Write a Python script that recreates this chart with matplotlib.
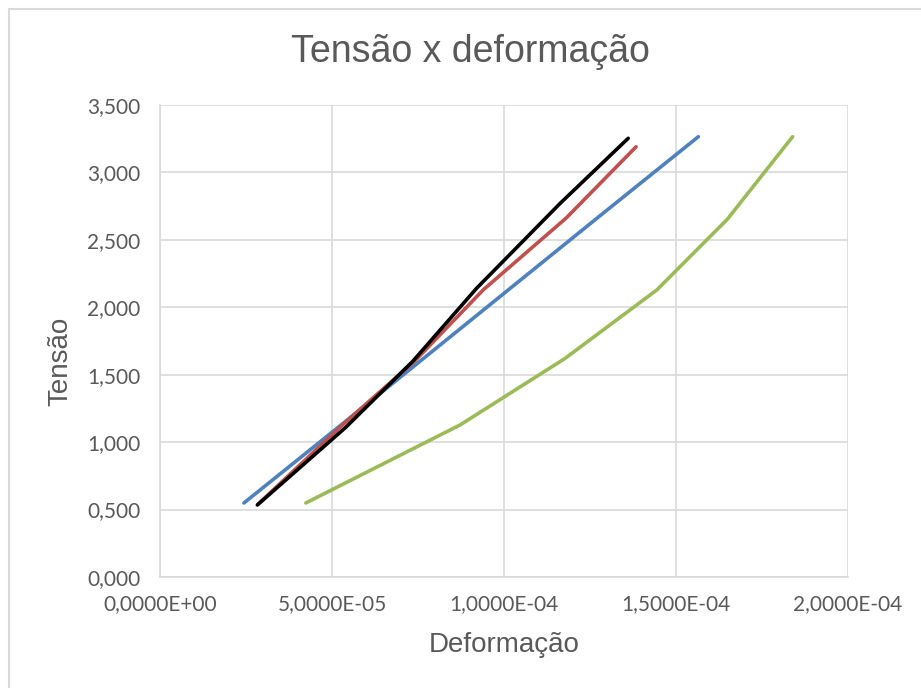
import matplotlib
matplotlib.use("Agg")
import matplotlib.pyplot as plt
from matplotlib.patches import Rectangle
from matplotlib.ticker import FuncFormatter, MultipleLocator

# deformação (x) e tensão (y) de cada corpo de prova
def_azul = [2.44e-5, 5.13e-5, 7.56e-5, 1.013e-4, 1.27e-4, 1.565e-4]
ten_azul = [0.549, 1.100, 1.600, 2.130, 2.660, 3.265]

def_verm = [2.85e-5, 5.40e-5, 7.40e-5, 9.40e-5, 1.18e-4, 1.384e-4]
ten_verm = [0.540, 1.150, 1.600, 2.130, 2.660, 3.190]

def_verde = [4.24e-5, 8.72e-5, 1.177e-4, 1.444e-4, 1.649e-4, 1.839e-4]
ten_verde = [0.549, 1.127, 1.620, 2.128, 2.652, 3.265]

def_preto = [2.83e-5, 5.38e-5, 7.35e-5, 9.20e-5, 1.163e-4, 1.361e-4]
ten_preto = [0.534, 1.105, 1.600, 2.140, 2.770, 3.253]

cinza_txt = "#595959"
cinza_grade = "#D9D9D9"

fig = plt.figure(figsize=(9.21, 6.88), dpi=100)
fig.patches.append(Rectangle((9 / 921, -0.1), 1.2, 1.1 - 9 / 688,
                             transform=fig.transFigure, fill=False,
                             edgecolor=cinza_grade, linewidth=1.5))

ax = fig.add_axes([160 / 921, 111 / 688, 688 / 921, 472 / 688])

ax.plot(def_azul, ten_azul, color="#4F81BD", lw=2.6, solid_capstyle="round")
ax.plot(def_verm, ten_verm, color="#C0504D", lw=2.6, solid_capstyle="round")
ax.plot(def_verde, ten_verde, color="#9BBB59", lw=2.6, solid_capstyle="round")
ax.plot(def_preto, ten_preto, color="#000000", lw=2.6, solid_capstyle="round")

ax.set_xlim(0, 2e-4)
ax.set_ylim(0, 3.5)
ax.xaxis.set_major_locator(MultipleLocator(5e-5))
ax.yaxis.set_major_locator(MultipleLocator(0.5))


def fmt_x(v, pos):
    return f"{v:.4E}".replace(".", ",")


def fmt_y(v, pos):
    return f"{v:.3f}".replace(".", ",")


ax.xaxis.set_major_formatter(FuncFormatter(fmt_x))
ax.yaxis.set_major_formatter(FuncFormatter(fmt_y))

ax.grid(True, color=cinza_grade, linewidth=1.2)
ax.set_axisbelow(True)
for lado in ["top", "right"]:
    ax.spines[lado].set_visible(False)
for lado in ["left", "bottom"]:
    ax.spines[lado].set_color(cinza_grade)
    ax.spines[lado].set_linewidth(1.2)
ax.tick_params(length=0, colors=cinza_txt, labelsize=15)
ax.tick_params(axis="y", pad=14)
ax.tick_params(axis="x", pad=12)
for lbl in ax.get_xticklabels() + ax.get_yticklabels():
    lbl.set_family("Lato")

fig.text(470 / 921, 1 - 52 / 688, "Tensão x deformação", ha="center", va="center",
         fontsize=27, color=cinza_txt, family="Liberation Sans")
fig.text(504 / 921, 1 - 645 / 688, "Deformação", ha="center", va="center",
         fontsize=20, color=cinza_txt, family="Liberation Sans")
fig.text(60 / 921, 1 - 361 / 688, "Tensão", ha="center", va="center", rotation=90,
         fontsize=20, color=cinza_txt, family="Liberation Sans")

fig.savefig("out.png", dpi=100)
